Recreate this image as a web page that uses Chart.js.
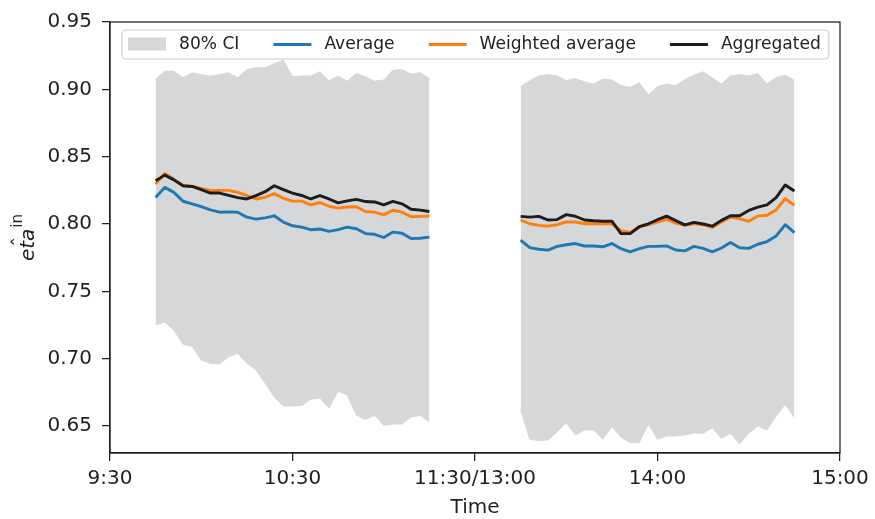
<!DOCTYPE html>
<html>
<head>
<meta charset="utf-8">
<script src="https://cdn.jsdelivr.net/npm/chart.js@4"></script>
<style>
  html, body { margin: 0; padding: 0; background: #ffffff; }
  canvas { display: block; }
</style>
</head>
<body>
<canvas id="chart" width="875" height="519"></canvas>
<script>
// Sampling times (3-minute bins) of the two trading sessions
const morningTimes = ['9:45','9:48','9:51','9:54','9:57','10:00','10:03','10:06','10:09','10:12','10:15',
  '10:18','10:21','10:24','10:27','10:30','10:33','10:36','10:39','10:42','10:45','10:48','10:51','10:54',
  '10:57','11:00','11:03','11:06','11:09','11:12','11:15'];
const afternoonTimes = ['13:15','13:18','13:21','13:24','13:27','13:30','13:33','13:36','13:39','13:42','13:45',
  '13:48','13:51','13:54','13:57','14:00','14:03','14:06','14:09','14:12','14:15','14:18','14:21','14:24',
  '14:27','14:30','14:33','14:36','14:39','14:42','14:45'];

// 80% confidence band
const ciUpperAM = [0.9075, 0.9135, 0.9135, 0.9086, 0.9123, 0.9110, 0.9098, 0.9110, 0.9123, 0.9086, 0.9147,
  0.9160, 0.9160, 0.9190, 0.9216, 0.9093, 0.9100, 0.9100, 0.9130, 0.9064, 0.9098, 0.9061, 0.9118, 0.9093,
  0.9061, 0.9069, 0.9142, 0.9147, 0.9113, 0.9123, 0.9080];
const ciLowerAM = [0.7250, 0.7272, 0.7211, 0.7108, 0.7093, 0.6990, 0.6966, 0.6961, 0.7015, 0.7039, 0.6966,
  0.6917, 0.6818, 0.6716, 0.6649, 0.6649, 0.6652, 0.6699, 0.6708, 0.6635, 0.6759, 0.6728, 0.6581, 0.6549,
  0.6579, 0.6505, 0.6515, 0.6515, 0.6568, 0.6579, 0.6532];
const ciUpperPM = [0.9020, 0.9064, 0.9100, 0.9110, 0.9100, 0.9064, 0.9080, 0.9056, 0.9039, 0.9076, 0.9069,
  0.9027, 0.9015, 0.9049, 0.8958, 0.9020, 0.9039, 0.9027, 0.9074, 0.9105, 0.9130, 0.9086, 0.9039, 0.9100,
  0.9110, 0.9100, 0.9118, 0.9039, 0.9088, 0.9105, 0.9069];
const ciLowerPM = [0.6623, 0.6402, 0.6392, 0.6397, 0.6458, 0.6524, 0.6434, 0.6471, 0.6471, 0.6402, 0.6495,
  0.6417, 0.6377, 0.6377, 0.6515, 0.6402, 0.6426, 0.6426, 0.6434, 0.6450, 0.6446, 0.6488, 0.6410, 0.6446,
  0.6368, 0.6446, 0.6500, 0.6471, 0.6574, 0.6662, 0.6564];

// Average
const averageAM = [0.8197, 0.8272, 0.8235, 0.8169, 0.8150, 0.8130, 0.8105, 0.8088, 0.8090, 0.8088, 0.8051,
  0.8036, 0.8046, 0.8061, 0.8014, 0.7987, 0.7977, 0.7958, 0.7963, 0.7946, 0.7958, 0.7977, 0.7965, 0.7929,
  0.7924, 0.7900, 0.7940, 0.7932, 0.7892, 0.7894, 0.7903];
const averagePM = [0.7880, 0.7825, 0.7813, 0.7806, 0.7834, 0.7846, 0.7855, 0.7837, 0.7837, 0.7831, 0.7855,
  0.7817, 0.7793, 0.7817, 0.7834, 0.7834, 0.7838, 0.7807, 0.7801, 0.7834, 0.7819, 0.7793, 0.7822, 0.7863,
  0.7824, 0.7819, 0.7850, 0.7870, 0.7911, 0.7995, 0.7936];

// Weighted average
const weightedAM = [0.8297, 0.8375, 0.8333, 0.8284, 0.8279, 0.8265, 0.8250, 0.8250, 0.8250, 0.8235, 0.8211,
  0.8186, 0.8199, 0.8226, 0.8191, 0.8170, 0.8170, 0.8142, 0.8160, 0.8132, 0.8118, 0.8126, 0.8128, 0.8093,
  0.8088, 0.8068, 0.8102, 0.8088, 0.8054, 0.8057, 0.8060];
const weightedPM = [0.8030, 0.8002, 0.7990, 0.7984, 0.7995, 0.8015, 0.8015, 0.8002, 0.8002, 0.8002, 0.8002,
  0.7950, 0.7938, 0.7977, 0.7995, 0.8015, 0.8034, 0.8007, 0.7990, 0.8002, 0.7995, 0.7975, 0.8015, 0.8050,
  0.8040, 0.8020, 0.8059, 0.8065, 0.8105, 0.8188, 0.8139];

// Aggregated
const aggregatedAM = [0.8321, 0.8363, 0.8328, 0.8284, 0.8279, 0.8255, 0.8230, 0.8230, 0.8213, 0.8196, 0.8186,
  0.8211, 0.8240, 0.8284, 0.8255, 0.8230, 0.8212, 0.8186, 0.8211, 0.8186, 0.8157, 0.8172, 0.8183, 0.8167,
  0.8164, 0.8142, 0.8168, 0.8150, 0.8110, 0.8103, 0.8093];
const aggregatedPM = [0.8057, 0.8051, 0.8057, 0.8030, 0.8033, 0.8070, 0.8058, 0.8030, 0.8024, 0.8021, 0.8021,
  0.7929, 0.7929, 0.7980, 0.8002, 0.8032, 0.8059, 0.8025, 0.7994, 0.8012, 0.8000, 0.7984, 0.8027, 0.8062,
  0.8062, 0.8101, 0.8125, 0.8142, 0.8196, 0.8290, 0.8245];

// Axis ticks (x in trading minutes since the open, lunch break removed)
const xTickValues = [0, 60, 120, 180, 240];
const xTickLabels = ['9:30', '10:30', '11:30/13:00', '14:00', '15:00'];
const yTickValues = [0.65, 0.70, 0.75, 0.80, 0.85, 0.90, 0.95];

const FONT = '"DejaVu Sans", "Liberation Sans", sans-serif';
const TEXT = '#1f1f1f';
const BAND = '#d6d7d9';
const BLUE = '#1f77b4';
const ORANGE = '#ff7f0e';
const BLACK = '#1c1c1c';
const LINE_W = 2.9;

// Clock time -> trading minute (9:30 = 0, 11:30 and 13:00 both = 120)
function tradingMinute(t) {
  const [h, m] = t.split(':').map(Number);
  const mins = h * 60 + m;
  return mins < 12 * 60 ? mins - 570 : mins - 780 + 120;
}
function points(times, values) {
  return times.map((t, i) => ({ x: tradingMinute(t), y: values[i] }));
}
function bothSessions(am, pm) {
  return [...points(morningTimes, am), { x: 120, y: null }, ...points(afternoonTimes, pm)];
}

function band(values, times, isUpper) {
  return {
    label: isUpper ? '80% CI' : '',
    data: points(times, values),
    borderColor: BAND,
    borderWidth: 1,
    backgroundColor: BAND,
    fill: isUpper ? '+1' : false,
    pointRadius: 0,
    tension: 0,
    order: 3
  };
}
function line(label, am, pm, color, order) {
  return {
    label,
    data: bothSessions(am, pm),
    borderColor: color,
    backgroundColor: color,
    borderWidth: LINE_W,
    borderJoinStyle: 'round',
    fill: false,
    pointRadius: 0,
    tension: 0,
    spanGaps: false,
    order
  };
}

const legendEntries = [
  { label: '80% CI', kind: 'patch', color: BAND },
  { label: 'Average', kind: 'line', color: BLUE },
  { label: 'Weighted average', kind: 'line', color: ORANGE },
  { label: 'Aggregated', kind: 'line', color: BLACK }
];

// Axes frame on all four sides
const framePlugin = {
  id: 'frame',
  afterDatasetsDraw(chart) {
    const { ctx, chartArea: a } = chart;
    ctx.save();
    ctx.strokeStyle = TEXT;
    ctx.lineWidth = 1.25;
    ctx.strokeRect(a.left, a.top, a.right - a.left, a.bottom - a.top);
    ctx.restore();
  }
};

// Legend box laid out in one row inside the plot
const legendPlugin = {
  id: 'rowLegend',
  afterDraw(chart) {
    const { ctx, chartArea: a } = chart;
    const fontSize = 17.1, handle = 38, textPad = 13, colGap = 34;
    const boxLeft = a.left + 12, boxTop = a.top + 8, boxH = 29;
    const cy = boxTop + boxH / 2;
    ctx.save();
    ctx.font = fontSize + 'px ' + FONT;
    let x = boxLeft + 6;
    const layout = legendEntries.map((e) => {
      const item = { e, hx: x, tx: x + handle + textPad };
      x = item.tx + ctx.measureText(e.label).width + colGap;
      return item;
    });
    const boxRight = x - colGap + 8;
    const r = 4;
    ctx.beginPath();
    ctx.moveTo(boxLeft + r, boxTop);
    ctx.arcTo(boxRight, boxTop, boxRight, boxTop + boxH, r);
    ctx.arcTo(boxRight, boxTop + boxH, boxLeft, boxTop + boxH, r);
    ctx.arcTo(boxLeft, boxTop + boxH, boxLeft, boxTop, r);
    ctx.arcTo(boxLeft, boxTop, boxRight, boxTop, r);
    ctx.closePath();
    ctx.fillStyle = 'rgba(255,255,255,0.8)';
    ctx.fill();
    ctx.strokeStyle = '#cccccc';
    ctx.lineWidth = 1.2;
    ctx.stroke();
    layout.forEach(({ e, hx, tx }) => {
      if (e.kind === 'patch') {
        ctx.fillStyle = e.color;
        ctx.fillRect(hx, cy - 7, handle, 13);
      } else {
        ctx.strokeStyle = e.color;
        ctx.lineWidth = LINE_W;
        ctx.beginPath();
        ctx.moveTo(hx, cy);
        ctx.lineTo(hx + handle, cy);
        ctx.stroke();
      }
      ctx.fillStyle = TEXT;
      ctx.textBaseline = 'middle';
      ctx.textAlign = 'left';
      ctx.fillText(e.label, tx, cy);
    });
    ctx.restore();
  }
};

// Rotated y-axis title: eta with a hat and an "in" superscript
const yTitlePlugin = {
  id: 'yTitle',
  afterDraw(chart) {
    const { ctx, chartArea: a } = chart;
    const cy = (a.top + a.bottom) / 2;
    ctx.save();
    ctx.fillStyle = TEXT;
    ctx.font = 'italic 20px ' + FONT;
    const w = ctx.measureText('eta').width;
    ctx.font = '15px ' + FONT;
    const ws = ctx.measureText('in').width;
    const total = w + 1 + ws;
    ctx.translate(34, cy + total / 2);
    ctx.rotate(-Math.PI / 2);
    ctx.textBaseline = 'alphabetic';
    ctx.textAlign = 'left';
    ctx.font = 'italic 20px ' + FONT;
    ctx.fillText('eta', 0, 0);
    ctx.font = '20px ' + FONT;
    ctx.textAlign = 'center';
    ctx.fillText('\u02C6', w / 2 + 3, -8);
    ctx.textAlign = 'left';
    ctx.font = '15px ' + FONT;
    ctx.fillText('in', w + 1, -12);
    ctx.restore();
  }
};

new Chart(document.getElementById('chart'), {
  type: 'line',
  data: {
    datasets: [
      band(ciUpperAM, morningTimes, true),
      band(ciLowerAM, morningTimes, false),
      band(ciUpperPM, afternoonTimes, true),
      band(ciLowerPM, afternoonTimes, false),
      line('Average', averageAM, averagePM, BLUE, 2),
      line('Weighted average', weightedAM, weightedPM, ORANGE, 1),
      line('Aggregated', aggregatedAM, aggregatedPM, BLACK, 0)
    ]
  },
  options: {
    responsive: false,
    animation: false,
    devicePixelRatio: 1,
    layout: { padding: { left: 0, right: 35, top: 18, bottom: 0 } },
    plugins: {
      legend: { display: false },
      tooltip: { enabled: false }
    },
    scales: {
      x: {
        type: 'linear',
        min: 0,
        max: 240,
        afterBuildTicks: (s) => { s.ticks = xTickValues.map((v) => ({ value: v })); },
        afterFit: (s) => { s.height = 66; },
        ticks: {
          callback: (v) => xTickLabels[xTickValues.indexOf(v)],
          font: { family: FONT, size: 20 },
          color: TEXT,
          padding: 6,
          maxRotation: 0,
          autoSkip: false
        },
        grid: { drawOnChartArea: false, drawTicks: true, tickLength: 8, color: TEXT, lineWidth: 1.25 },
        border: { display: true, color: TEXT, width: 1.25 },
        title: {
          display: true,
          text: 'Time',
          font: { family: FONT, size: 20, lineHeight: 1.1 },
          color: TEXT,
          padding: { top: 0, bottom: 0 }
        }
      },
      y: {
        type: 'linear',
        min: 0.63,
        max: 0.95,
        afterBuildTicks: (s) => { s.ticks = yTickValues.map((v) => ({ value: v })); },
        afterFit: (s) => { s.width = 110; },
        ticks: {
          callback: (v) => v.toFixed(2),
          font: { family: FONT, size: 20 },
          color: TEXT,
          padding: 10
        },
        grid: { drawOnChartArea: false, drawTicks: true, tickLength: 8, color: TEXT, lineWidth: 1.25 },
        border: { display: true, color: TEXT, width: 1.25 }
      }
    }
  },
  plugins: [framePlugin, legendPlugin, yTitlePlugin]
});
</script>
</body>
</html>
